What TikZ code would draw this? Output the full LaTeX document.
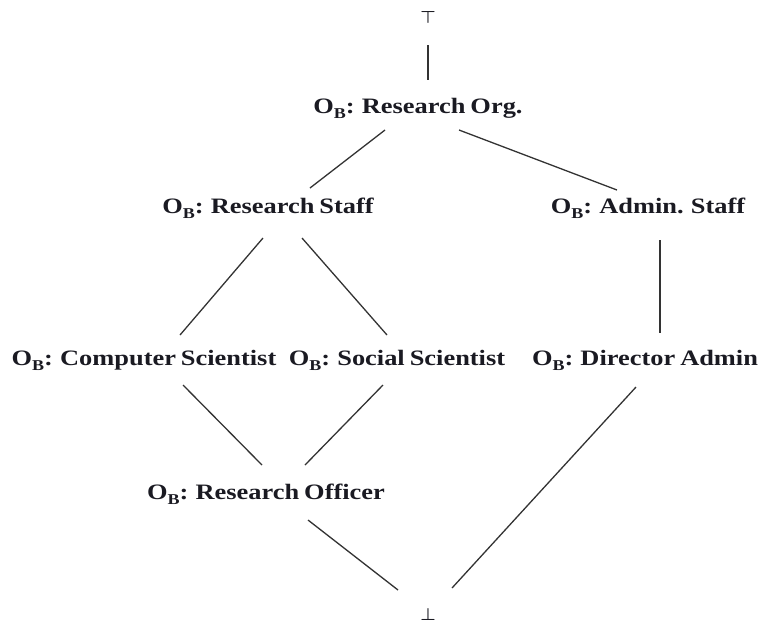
\documentclass[tikz,border=0pt]{standalone}
\usepackage{fontspec}
\setmainfont[FakeStretch=1.2,WordSpace=0.75]{Liberation Serif}
\usetikzlibrary{calc}
\newcommand{\OBsub}{O\raisebox{-5pt}{\fontsize{15}{15}\selectfont B}}
\definecolor{txtc}{HTML}{1A1A22}
\definecolor{linec}{HTML}{333333}
\tikzset{
  lbl/.style={anchor=base, inner sep=0pt, text=txtc, font=\fontsize{22}{24}\selectfont\bfseries},
  sym/.style={anchor=base, inner sep=0pt, text=txtc, font=\fontsize{17}{18}\selectfont\boldmath},
  conn/.style={draw=linec, line width=1.3pt}
}
\begin{document}
\begin{tikzpicture}[x=1pt,y=-1pt]
\useasboundingbox (0,0) rectangle (759,625);
\node[sym] (top) at (428,23) {$\top$};
\node[lbl] (ro) at (418,113) {\OBsub: Research Org.};
\node[lbl] (rs) at (268,213) {\OBsub: Research Staff};
\node[lbl] (as) at (648,213) {\OBsub: Admin. Staff};
\node[lbl] (cs) at (144,365) {\OBsub: Computer Scientist};
\node[lbl] (ss) at (397,365) {\OBsub: Social Scientist};
\node[lbl] (da) at (645,365) {\OBsub: Director Admin};
\node[lbl] (rof) at (266,499) {\OBsub: Research Officer};
\node[sym] (bot) at (428,620) {$\bot$};
\draw[conn] ($(top.base)+(0,22)$) -- ($(ro.base)+(10,-33)$);
\draw[conn] ($(ro.base)+(-33,17)$) -- ($(rs.base)+(42,-25)$);
\draw[conn] ($(ro.base)+(41,17)$) -- ($(as.base)+(-31,-23)$);
\draw[conn] ($(rs.base)+(-5,25)$) -- ($(cs.base)+(36,-30)$);
\draw[conn] ($(rs.base)+(34,25)$) -- ($(ss.base)+(-10,-30)$);
\draw[conn] ($(as.base)+(12,27)$) -- ($(da.base)+(15,-32)$);
\draw[conn] ($(cs.base)+(39,20)$) -- ($(rof.base)+(-4,-34)$);
\draw[conn] ($(ss.base)+(-14,20)$) -- ($(rof.base)+(39,-34)$);
\draw[conn] ($(da.base)+(-9,22)$) -- ($(bot.base)+(24,-32)$);
\draw[conn] ($(rof.base)+(42,21)$) -- ($(bot.base)+(-30,-30)$);
\end{tikzpicture}
\end{document}
